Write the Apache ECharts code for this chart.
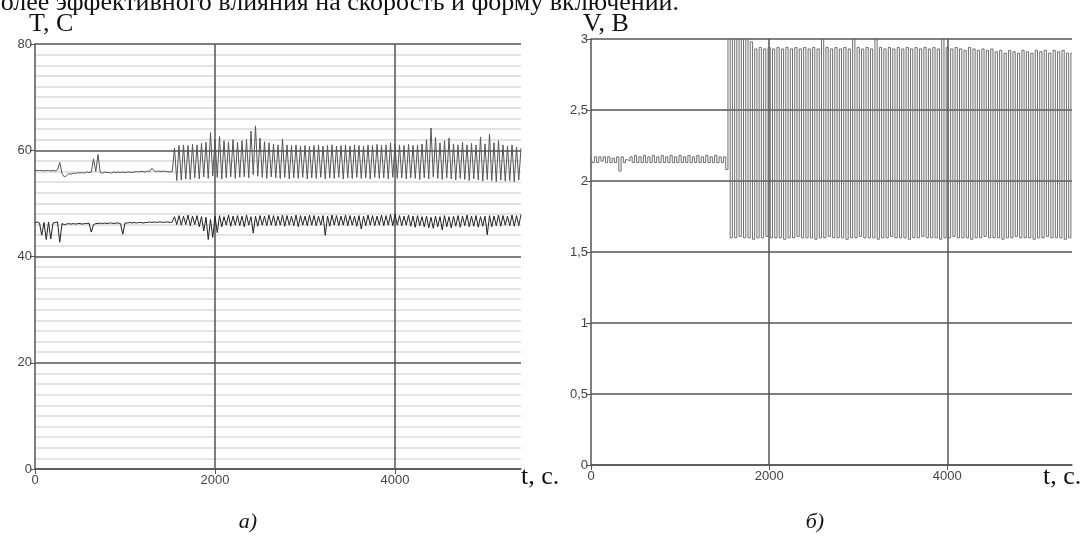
<!DOCTYPE html>
<html><head><meta charset="utf-8">
<script src="https://cdn.jsdelivr.net/npm/echarts@6/dist/echarts.min.js"></script>
<style>html,body{margin:0;padding:0;background:#fff}#c{width:1083px;height:544px}</style>
</head><body><div id="c"></div><script>
// sampling step of the recorded signals, seconds
const timeStep = 25;
const xTicks = [0, 2000, 4000];

// Panel a: temperature, T, C — values every 25 s from t = 0 to 1525 (before switching on)
const tUpperBefore = [56.2,56.2,56.2,56.2,56.1,56.2,56.2,56.1,56.2,56.1,
  56.3,57.7,55.6,55.0,55.2,55.6,55.5,55.7,55.6,55.8,
  55.7,55.8,55.7,55.9,55.8,55.9,58.4,56.0,59.2,55.8,
  55.7,55.9,55.8,55.8,55.7,55.9,55.8,55.9,55.8,55.9,
  55.8,55.9,55.9,55.8,55.9,56.0,55.9,56.0,56.0,55.9,
  56.1,56.0,56.6,56.1,56.0,56.1,56.0,56.1,56.0,56.0,
  55.9,56.0];
// from t = 1550: alternating peaks / troughs (period 50 s)
const tUpperPeaks = [60.4,60.9,61.0,60.9,61.1,61.0,61.3,61.5,63.3,62.0,
  62.6,61.8,61.6,62.0,61.5,61.8,62.0,63.6,64.6,62.3,
  61.6,61.4,61.2,61.0,62.1,61.0,60.9,61.0,60.8,60.9,
  60.8,60.9,61.0,60.8,60.9,61.0,60.8,60.9,61.0,60.8,
  61.0,60.9,60.8,61.0,60.9,61.1,60.9,61.0,61.4,61.2,
  61.0,60.9,61.1,60.9,61.0,61.2,62.0,64.2,62.4,61.4,
  61.8,62.3,61.2,61.0,61.5,61.0,61.3,61.0,62.5,61.2,
  63.0,61.4,61.8,61.0,60.8,61.0,60.6,60.4];
const tUpperTroughs = [54.3,54.4,54.6,54.5,54.8,54.6,55.0,54.7,55.2,54.9,
  54.6,54.8,55.0,54.7,54.9,55.0,54.8,55.4,55.1,54.9,
  54.7,55.0,54.8,54.7,54.9,54.6,54.8,54.7,54.9,54.6,
  54.8,54.7,54.9,54.6,54.8,54.7,54.9,54.6,54.8,54.7,
  54.9,54.7,54.8,54.6,54.9,54.7,54.8,54.6,54.9,54.7,
  54.8,54.6,54.8,54.7,54.5,54.8,54.6,55.0,54.7,54.5,
  54.8,54.6,54.4,54.7,54.5,54.3,54.6,54.4,54.2,54.5,
  54.3,54.1,54.4,54.2,54.3,54.1,54.4];

const tLowerBefore = [46.4,46.5,46.3,44.0,46.4,43.2,46.5,43.3,46.3,46.4,
  46.5,42.7,46.2,46.0,46.1,46.2,46.1,46.2,46.1,46.2,
  46.2,46.1,46.2,46.2,46.3,44.6,46.0,46.2,46.2,46.3,
  46.2,46.3,46.2,46.3,46.3,46.2,46.3,46.3,46.2,44.2,
  46.3,46.3,46.4,46.3,46.4,46.3,46.4,46.4,46.3,46.4,
  46.4,46.5,46.4,46.5,46.4,46.5,46.5,46.4,46.5,46.5,
  46.4,46.5];
const tLowerPeaks = [47.5,47.7,47.6,47.8,47.6,47.7,47.5,47.4,47.0,47.6,
  47.7,47.5,47.8,47.6,47.7,47.6,47.8,47.5,47.6,47.7,
  47.6,47.8,47.7,47.6,47.8,47.7,47.6,47.8,47.7,47.6,
  47.8,47.7,47.6,47.7,47.6,47.8,47.7,47.6,47.8,47.7,
  47.6,47.7,47.6,47.8,47.7,47.6,47.8,47.7,47.9,48.0,
  47.7,47.6,47.8,47.6,47.7,47.5,47.6,47.4,47.6,47.5,
  47.7,47.5,47.6,47.7,47.6,47.8,47.6,47.7,47.5,47.6,
  47.7,47.6,47.8,47.7,47.6,47.8,47.7,47.9];
const tLowerTroughs = [46.0,45.9,46.0,45.8,46.0,45.6,44.8,43.2,43.6,44.5,
  45.6,45.9,45.7,45.9,45.8,45.6,45.9,44.4,45.7,45.9,
  45.8,45.9,45.8,45.9,45.7,45.9,45.8,45.6,45.9,45.8,
  45.9,45.8,45.9,44.0,45.7,45.9,45.8,45.9,45.8,45.9,
  45.7,45.2,45.8,45.9,45.8,45.9,45.8,45.9,45.8,45.9,
  45.8,45.9,45.7,45.5,45.8,45.6,45.4,45.3,45.6,45.0,
  45.6,45.4,45.7,45.5,45.8,45.6,45.7,45.5,45.7,44.1,
  45.6,45.8,45.7,45.9,45.8,45.7,45.8];

// Panel б: voltage, V, B (switching signal)
const vBefore = [2.17,2.13,2.17,2.13,2.17,2.14,2.17,2.13,2.17,2.13,
  2.16,2.13,2.17,2.07,2.17,2.13,2.15,2.14,2.17,2.13,
  2.18,2.13,2.17,2.13,2.18,2.13,2.17,2.13,2.18,2.13,
  2.17,2.13,2.18,2.13,2.17,2.13,2.18,2.13,2.17,2.13,
  2.18,2.13,2.17,2.13,2.18,2.13,2.17,2.13,2.18,2.13,
  2.17,2.13,2.18,2.13,2.17,2.13,2.18,2.13,2.17,2.13,
  2.17,2.08];
const vPeaks = [3.00,3.00,3.00,3.00,3.00,2.98,2.93,2.94,2.93,2.94,
  2.93,2.94,2.93,2.94,2.93,2.94,2.93,2.94,2.93,2.94,
  2.93,3.00,2.94,2.93,2.94,2.93,2.94,2.93,3.00,2.94,
  2.93,2.94,2.93,3.00,2.94,2.93,2.94,2.93,2.94,2.93,
  2.94,2.93,2.94,2.93,2.94,2.93,2.94,2.93,3.00,2.94,
  2.93,2.94,2.93,2.92,2.94,2.93,2.92,2.93,2.92,2.93,
  2.91,2.92,2.90,2.92,2.91,2.90,2.92,2.91,2.90,2.92,
  2.91,2.92,2.90,2.92,2.91,2.92,2.90,2.90];
const vTroughs = [1.60,1.60,1.61,1.60,1.60,1.59,1.60,1.60,1.61,1.60,
  1.60,1.60,1.59,1.60,1.60,1.61,1.60,1.60,1.60,1.59,
  1.60,1.60,1.61,1.60,1.60,1.60,1.59,1.60,1.60,1.61,
  1.60,1.60,1.60,1.59,1.60,1.60,1.61,1.60,1.60,1.60,
  1.59,1.60,1.60,1.61,1.60,1.60,1.60,1.59,1.60,1.60,
  1.61,1.60,1.60,1.60,1.59,1.60,1.60,1.61,1.60,1.60,
  1.60,1.59,1.60,1.60,1.61,1.60,1.60,1.60,1.59,1.60,
  1.60,1.61,1.60,1.60,1.60,1.59,1.60];

function buildSeries(before, peaks, troughs) {
  const vals = before.slice();
  for (let k = 0; k < peaks.length; k++) {
    vals.push(peaks[k]);
    if (k < troughs.length) vals.push(troughs[k]);
  }
  return vals.map((v, i) => [i * timeStep, v]);
}

const AX = '#555';
const LBL = {color: '#444', fontSize: 13, fontFamily: 'Liberation Sans, Arial, sans-serif'};
function xAxis(gi) {
  return {
    gridIndex: gi, type: 'value', min: 0, max: 5400, interval: 2000,
    axisLine: {show: true, onZero: false, lineStyle: {color: AX, width: 1.5}},
    axisTick: {show: true, length: 5, customValues: xTicks, lineStyle: {color: AX, width: 1}},
    axisLabel: Object.assign({margin: 5, customValues: xTicks, formatter: v => String(v)}, LBL),
    splitLine: {show: true, showMinLine: false, lineStyle: {color: AX, width: 1.5}}
  };
}

const serif = '"Liberation Serif", "Times New Roman", serif';
function txt(x, y, text, size, align, italic) {
  return {type: 'text', x: x, y: y, silent: true,
    style: {text: text, fill: '#111', align: align || 'left', verticalAlign: 'middle',
      font: (italic ? 'italic ' : '') + size + 'px ' + serif}};
}

const chart = echarts.init(document.getElementById('c'), null, {renderer: 'canvas'});
chart.setOption({
  animation: false,
  backgroundColor: '#fff',
  grid: [
    {left: 35, top: 44, width: 486, height: 425},
    {left: 591, top: 39, width: 481, height: 426}
  ],
  xAxis: [xAxis(0), xAxis(1)],
  yAxis: [
    {gridIndex: 0, type: 'value', min: 0, max: 80, interval: 20,
     axisLine: {show: true, lineStyle: {color: AX, width: 1.5}},
     axisTick: {show: true, length: 5, lineStyle: {color: AX}},
     axisLabel: Object.assign({margin: 3}, LBL),
     splitLine: {show: true, lineStyle: {color: AX, width: 1.5}},
     minorTick: {show: false, splitNumber: 10},
     minorSplitLine: {show: true, lineStyle: {color: '#dadada', width: 1.5}}},
    {gridIndex: 1, type: 'value', min: 0, max: 3, interval: 0.5,
     axisLine: {show: true, lineStyle: {color: AX, width: 1.5}},
     axisTick: {show: true, length: 5, lineStyle: {color: AX}},
     axisLabel: Object.assign({margin: 3, formatter: v => String(v).replace('.', ',')}, LBL),
     splitLine: {show: true, lineStyle: {color: AX, width: 1.5}}}
  ],
  series: [
    {type: 'line', xAxisIndex: 0, yAxisIndex: 0, symbol: 'none',
     data: buildSeries(tUpperBefore, tUpperPeaks, tUpperTroughs),
     lineStyle: {color: '#555', width: 1}},
    {type: 'line', xAxisIndex: 0, yAxisIndex: 0, symbol: 'none',
     data: buildSeries(tLowerBefore, tLowerPeaks, tLowerTroughs),
     lineStyle: {color: '#222', width: 1}},
    {type: 'line', xAxisIndex: 1, yAxisIndex: 1, symbol: 'none', step: 'middle',
     data: buildSeries(vBefore, vPeaks, vTroughs),
     lineStyle: {color: '#6e6e6e', width: 1}}
  ],
  graphic: [
    txt(679, 3, 'более эффективного влияния на скорость и форму включений.', 26, 'right'),
    txt(29, 24, 'T, C', 26),
    txt(583, 24, 'V, B', 26),
    txt(521, 477, 't, c.', 26),
    txt(1043, 477, 't, c.', 26),
    txt(248, 522, 'а)', 22, 'center', true),
    txt(815, 522, 'б)', 22, 'center', true)
  ]
});
</script></body></html>
